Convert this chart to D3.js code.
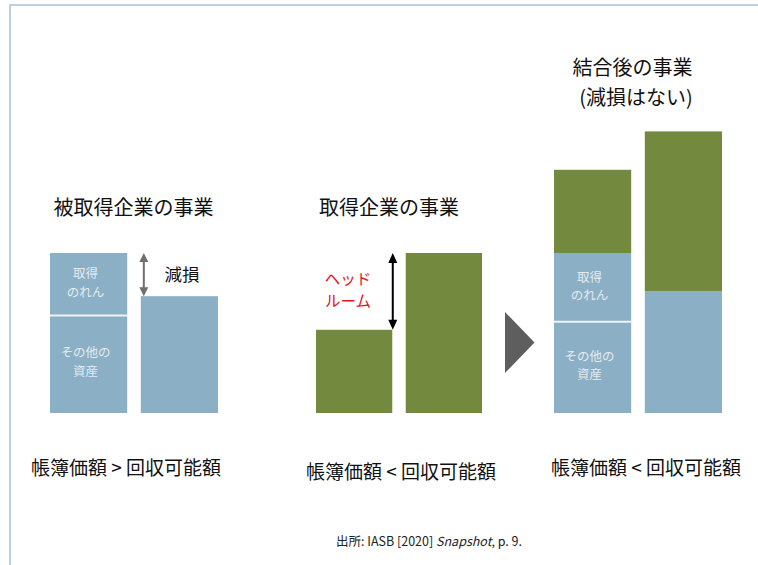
<!DOCTYPE html>
<html lang="ja">
<head>
<meta charset="utf-8">
<script src="https://cdn.jsdelivr.net/npm/d3@7"></script>
<style>
  html, body { margin: 0; padding: 0; background: #ffffff; }
  svg { display: block; }
  text { font-family: "Noto Sans CJK JP", "Noto Sans", sans-serif; }
</style>
</head>
<body>
<svg id="chart" width="758" height="565"></svg>
<script>
// Bars: carrying amount vs recoverable amount for each business
const barNames = [
  "被取得・帳簿価額", "被取得・回収可能額",
  "取得・帳簿価額", "取得・回収可能額",
  "結合後・帳簿価額", "結合後・回収可能額"
];
// Stacked segments (arbitrary units)
const otherAssets         = [61, 0, 0, 0, 57, 0];
const goodwill            = [39, 0, 0, 0, 43, 0];
const acquireeRecoverable = [0, 73, 0, 0, 0, 76];
const acquirerValue       = [0, 0, 52, 100, 52, 100];

const panelTitles = ["被取得企業の事業", "取得企業の事業", "結合後の事業"];
const panelSubtitle = "(減損はない)";
const comparisons = ["帳簿価額 > 回収可能額", "帳簿価額 < 回収可能額", "帳簿価額 < 回収可能額"];
const segmentLabels = { goodwill: ["取得", "のれん"], otherAssets: ["その他の", "資産"] };
const impairmentLabel = "減損";
const headroomLabel = ["ヘッド", "ルーム"];

const BLUE = "#8bafc4";
const GREEN = "#73893d";

const svg = d3.select("#chart");

// Frame
svg.append("path")
  .attr("d", "M10,570 L10,5 L770,5")
  .attr("fill", "none")
  .attr("stroke", "#a9c3d8")
  .attr("stroke-width", 1.6);

// Scales
const y = d3.scaleLinear().domain([0, 180]).range([413, 125]);
const panelRanges = [[50, 218], [316, 482], [554, 722]];
const panelX = panelRanges.map(r =>
  d3.scaleBand().domain([0, 1]).range(r).paddingInner(0.15).paddingOuter(0));
const xOf = i => panelX[Math.floor(i / 2)](i % 2);
const bw = i => panelX[Math.floor(i / 2)].bandwidth();

const rows = barNames.map((name, i) => ({
  name, i,
  otherAssets: otherAssets[i],
  goodwill: goodwill[i],
  acquireeRecoverable: acquireeRecoverable[i],
  acquirerValue: acquirerValue[i]
}));
const keys = ["otherAssets", "goodwill", "acquireeRecoverable", "acquirerValue"];
const colorOf = { otherAssets: BLUE, goodwill: BLUE, acquireeRecoverable: BLUE, acquirerValue: GREEN };
const series = d3.stack().keys(keys)(rows);

const gBars = svg.append("g");
series.forEach(s => {
  gBars.selectAll(null)
    .data(s.filter(d => d[1] > d[0]))
    .enter().append("rect")
    .attr("x", d => xOf(d.data.i))
    .attr("width", d => bw(d.data.i))
    .attr("y", d => y(d[1]))
    .attr("height", d => y(d[0]) - y(d[1]))
    .attr("fill", colorOf[s.key]);
});

// Two separate stacked text lines centred on cy
function twoLine(parent, lines, x, cy, gap, size, fill) {
  lines.forEach((s, k) => {
    parent.append("text")
      .attr("x", x).attr("y", cy + (k - 0.5) * gap)
      .attr("text-anchor", "middle").attr("dominant-baseline", "central")
      .attr("font-size", size).attr("fill", fill)
      .text(s);
  });
}

// White divider between other assets and goodwill, plus segment labels
rows.filter(r => r.otherAssets > 0 && r.goodwill > 0).forEach(r => {
  const x0 = xOf(r.i), w = bw(r.i), cx = x0 + w / 2 - 3;
  svg.append("line")
    .attr("x1", x0).attr("x2", x0 + w)
    .attr("y1", y(r.otherAssets)).attr("y2", y(r.otherAssets))
    .attr("stroke", "#eef3f6").attr("stroke-width", 2);
  const gwMid = (y(r.otherAssets) + y(r.otherAssets + r.goodwill)) / 2;
  const oaMid = (y(0) + y(r.otherAssets)) / 2;
  twoLine(svg, segmentLabels.goodwill, cx, gwMid - 2, 18.5, 12.5, "#e4ebf0");
  twoLine(svg, segmentLabels.otherAssets, cx, oaMid - 3, 18.5, 12.5, "#e4ebf0");
});

// Double-headed arrow helper
function doubleArrow(x, y1, y2, color, head) {
  const g = svg.append("g");
  g.append("line").attr("x1", x).attr("x2", x)
    .attr("y1", y1 + head.h - 1).attr("y2", y2 - head.h + 1)
    .attr("stroke", color).attr("stroke-width", head.sw);
  g.append("path")
    .attr("d", `M${x},${y1} L${x - head.w / 2},${y1 + head.h} L${x + head.w / 2},${y1 + head.h} Z`)
    .attr("fill", color);
  g.append("path")
    .attr("d", `M${x},${y2} L${x - head.w / 2},${y2 - head.h} L${x + head.w / 2},${y2 - head.h} Z`)
    .attr("fill", color);
}

// Impairment arrow: from carrying amount down to recoverable amount
const impX = xOf(1) + 3;
doubleArrow(impX, y(otherAssets[0] + goodwill[0]), y(acquireeRecoverable[1]), "#6f6f6f", { w: 9, h: 9, sw: 2 });
svg.append("text")
  .attr("x", 182).attr("y", 273)
  .attr("text-anchor", "middle").attr("dominant-baseline", "central")
  .attr("font-size", 17.5).attr("fill", "#111")
  .text(impairmentLabel);

// Headroom arrow: from recoverable amount down to carrying amount
const hrX = xOf(2) + bw(2) + 0.5;
doubleArrow(hrX, y(acquirerValue[3]), y(acquirerValue[2]), "#000000", { w: 9, h: 10, sw: 2 });
twoLine(svg, headroomLabel, 348, 289, 22.5, 15.5, "#e8141c");

// Transition triangle
svg.append("path")
  .attr("d", "M505,312 L534.5,342.5 L505,373 Z")
  .attr("fill", "#5e5e5e");

// Panel titles
const titlePos = [[133.5, 206], [389, 206], [632.5, 66]];
panelTitles.forEach((t, k) => {
  svg.append("text")
    .attr("x", titlePos[k][0]).attr("y", titlePos[k][1])
    .attr("text-anchor", "middle").attr("dominant-baseline", "central")
    .attr("font-size", 20).attr("fill", "#111")
    .text(t);
});
svg.append("text")
  .attr("x", 636).attr("y", 96)
  .attr("text-anchor", "middle").attr("dominant-baseline", "central")
  .attr("font-size", 20).attr("fill", "#111")
  .text(panelSubtitle);

// Comparison captions
const capPos = [[126, 466], [401, 470], [646, 466]];
comparisons.forEach((t, k) => {
  svg.append("text")
    .attr("x", capPos[k][0]).attr("y", capPos[k][1])
    .attr("text-anchor", "middle").attr("dominant-baseline", "central")
    .attr("font-size", 19).attr("fill", "#111")
    .text(t);
});

// Source note
const src = svg.append("text")
  .attr("x", 429).attr("y", 540)
  .attr("text-anchor", "middle").attr("dominant-baseline", "central")
  .attr("font-size", 12.5).attr("fill", "#222");
src.append("tspan").text("出所: IASB [2020] ");
src.append("tspan").attr("font-style", "italic").text("Snapshot");
src.append("tspan").text(", p. 9.");
</script>
</body>
</html>
